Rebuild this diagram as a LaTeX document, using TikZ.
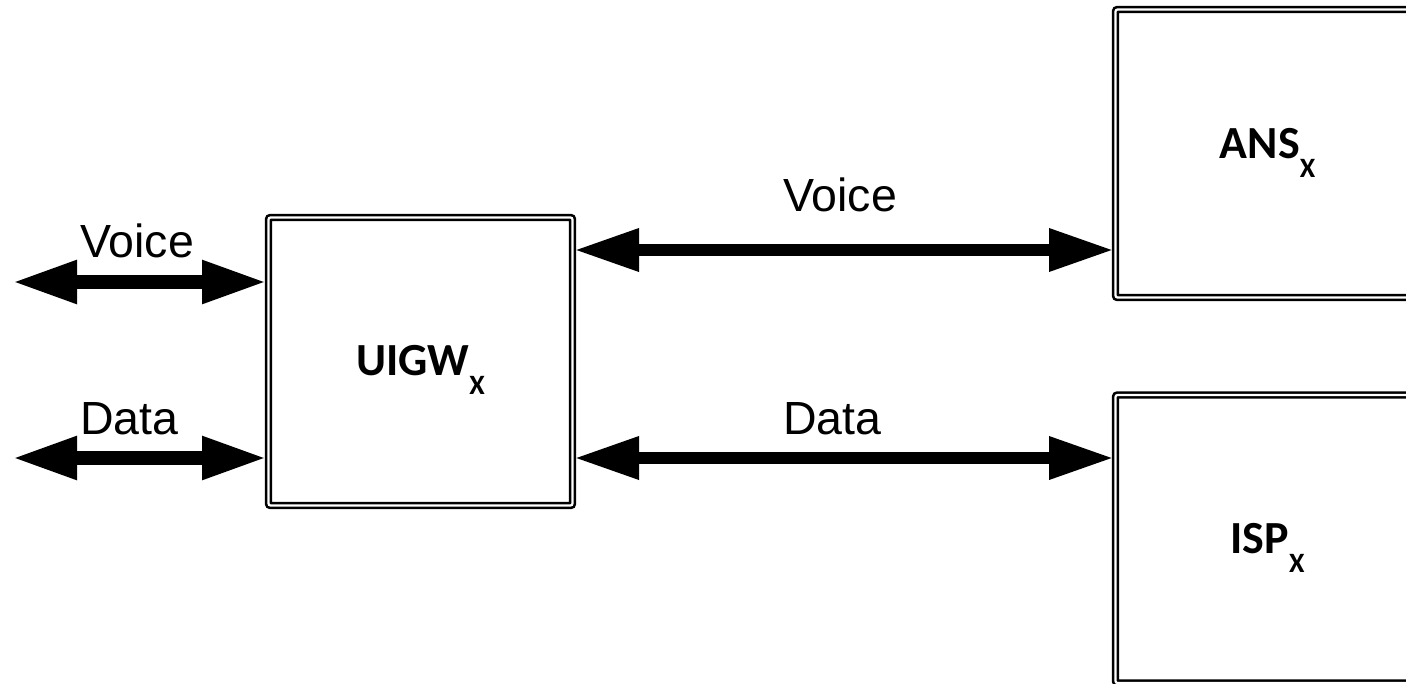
\documentclass[tikz,border=0pt]{standalone}
\usepackage{fontspec}
\setmainfont{Liberation Sans}
\newfontfamily\boxfont{Carlito}
\usetikzlibrary{arrows.meta}
\newcommand{\boxtext}[3]{\raisebox{-#3pt}{#1{\fontsize{28}{28}\selectfont\raisebox{-19pt}{#2}}}}
\tikzset{
  blk/.style={draw=black, line width=2.6pt, double=white, double distance=2.2pt,
    rounded corners=2pt, minimum width=304pt, minimum height=288pt,
    text height=0pt, text depth=0pt,
    inner sep=0pt, outer sep=1.5pt, font=\boxfont\bfseries\fontsize{46}{55}\selectfont},
  bigarrow/.style={draw=black,
    {Triangle[length=65pt,width=40pt]}-{Triangle[length=65pt,width=40pt]}},
  lbl/.style={inner sep=0pt, anchor=base west, font=\fontsize{46.5}{56}\selectfont}
}
\begin{document}
\begin{tikzpicture}[x=1pt,y=-1pt]
\useasboundingbox (0,0) rectangle (1406,683);
\clip (0,0) rectangle (1406,683);
\node[blk] (u) at (420.5,361.5) {\boxtext{UIGW}{X}{13.5}};
\node[blk] (ans) at (1267.5,153.5) {\boxtext{ANS}{X}{4.5}};
\node[blk] (isp) at (1267.5,539) {\boxtext{ISP}{X}{14}};
\coordinate (lv) at (12,282);
\coordinate (ld) at (12,458);
\coordinate (mv) at (0,250);
\coordinate (md) at (0,458);
\draw[bigarrow, line width=14pt] (lv) -- (lv -| u.west);
\draw[bigarrow, line width=14pt] (ld) -- (ld -| u.west);
\draw[bigarrow, line width=12.5pt] (mv -| u.east) -- (mv -| ans.west);
\draw[bigarrow, line width=12.5pt] (md -| u.east) -- (md -| isp.west);
\node[lbl] (t1) at (80,257) {Voice};
\node[lbl] (t2) at (80,434) {Data};
\node[lbl] (t3) at (783,211) {Voice};
\node[lbl] (t4) at (783,434) {Data};
\end{tikzpicture}
\end{document}
